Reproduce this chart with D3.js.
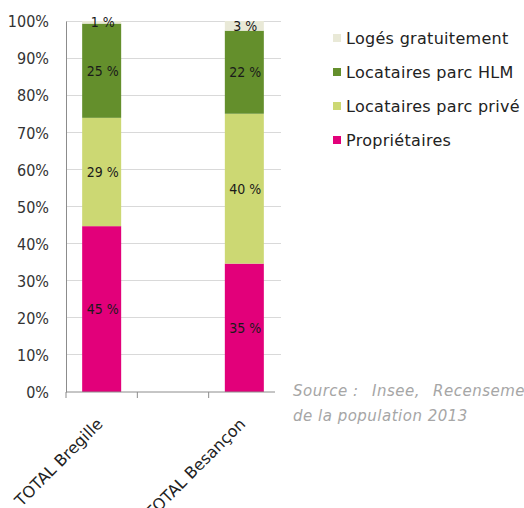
<!DOCTYPE html>
<html><head><meta charset="utf-8">
<script src="https://cdn.jsdelivr.net/npm/d3@7"></script>
<style>body{margin:0;background:#fff}</style>
</head><body>
<svg id="c" width="524" height="508"></svg>
<script>
const categories = ["TOTAL Bregille", "", "TOTAL Besançon"];
const seriesNames = ["Propriétaires", "Locataires parc privé", "Locataires parc HLM", "Logés gratuitement"];
const proprietaires = [44.7, null, 34.6];
const locPrive = [29.2, null, 40.4];
const locHLM = [25.4, null, 22.4];
const gratuit = [0.7, null, 2.6];
const yTicks = [0, 10, 20, 30, 40, 50, 60, 70, 80, 90, 100];
const colors = ["#E2007A", "#CCD873", "#648F2C", "#E9E9D7"];
const sourceLine1 = ["Source :", "Insee,", "Recensement"];
const sourceLine2 = "de la population 2013";

const svg = d3.select("#c");
const m = {l: 66, r: 280, t: 21, b: 392};
const x = d3.scaleBand().domain(categories.map((d,i)=>i)).range([m.l, m.r]).paddingInner(0).paddingOuter(0);
const y = d3.scaleLinear().domain([0, 100]).range([m.b, m.t]);
const cond = "'DejaVu Sans Condensed', 'Liberation Sans Narrow', 'DejaVu Sans', sans-serif";
const font = "'DejaVu Sans', sans-serif";

// grid
svg.append("g").selectAll("line").data(yTicks.filter(d=>d>0)).join("line")
  .attr("x1", m.l).attr("x2", 281).attr("y1", d=>y(d)).attr("y2", d=>y(d))
  .attr("stroke", "#d9d9d9").attr("stroke-width", 1).attr("shape-rendering","crispEdges");

// bars
const data = categories.map((c,i)=>({c, i, vals:[proprietaires[i], locPrive[i], locHLM[i], gratuit[i]]}));
const bw = 39;
data.forEach(d=>{
  if (d.vals[0] == null) return;
  let cum = 0;
  d.vals.forEach((v,k)=>{
    const x0 = x(d.i) + x.bandwidth()/2 - bw/2;
    svg.append("rect").attr("x", x0).attr("width", bw)
      .attr("y", y(cum+v)).attr("height", y(cum)-y(cum+v)).attr("fill", colors[k]);
    svg.append("text").attr("x", x0 + bw/2 + 1).attr("y", y(cum+v/2)+5)
      .attr("text-anchor","middle").attr("font-family", cond).attr("font-size", 14)
      .attr("fill","#1a1a1a").text(Math.round(v) + " %");
    cum += v;
  });
});

// y axis
const ya = svg.append("g").attr("transform", `translate(${m.l},0)`)
  .call(d3.axisLeft(y).tickValues(yTicks).tickFormat(d=>d+"%").tickSize(0).tickPadding(17));
ya.select(".domain").attr("stroke","#8c8c8c");
ya.selectAll("text").attr("font-family", cond).attr("font-size", 16).attr("fill","#333").attr("dy","0.36em");

// x axis
const xa = svg.append("g").attr("transform", `translate(0,${m.b})`);
xa.append("line").attr("x1", m.l).attr("x2", 275).attr("stroke","#8c8c8c");
xa.selectAll("line.t").data(categories.map((d,i)=>i)).join("line").attr("class","t")
  .attr("x1", d=>x(d)).attr("x2", d=>x(d)).attr("y1",0).attr("y2",6).attr("stroke","#8c8c8c");
xa.selectAll("text").data(data.filter(d=>d.c)).join("text")
  .attr("transform", d=>`translate(${x(d.i)+x.bandwidth()/2+2},${33}) rotate(-45)`)
  .attr("text-anchor","end").attr("font-family", font).attr("font-size", 16).attr("fill","#222")
  .text(d=>d.c);

// legend
const legOrder = [3,2,1,0];
const lg = svg.append("g");
legOrder.forEach((k,j)=>{
  const yy = 38 + j*34;
  lg.append("rect").attr("x", 333).attr("y", yy-4).attr("width", 8).attr("height", 8).attr("fill", colors[k]);
  lg.append("text").attr("x", 346).attr("y", yy+6).attr("font-family", font)
    .attr("font-size", 16).attr("letter-spacing", 0.3).attr("fill","#222").text(seriesNames[k]);
});

// source
const sx = [293, 372, 433];
sourceLine1.forEach((t,i)=>{
  svg.append("text").attr("x", sx[i]).attr("y", 396).attr("font-family", font)
    .attr("font-style","italic").attr("font-size", 15).attr("letter-spacing", 0.5)
    .attr("fill","#a6a6a6").text(t);
});
svg.append("text").attr("x", 293).attr("y", 421).attr("font-family", font)
  .attr("font-style","italic").attr("font-size", 15).attr("letter-spacing", 0.5)
  .attr("fill","#a6a6a6").text(sourceLine2);
</script>
</body></html>
